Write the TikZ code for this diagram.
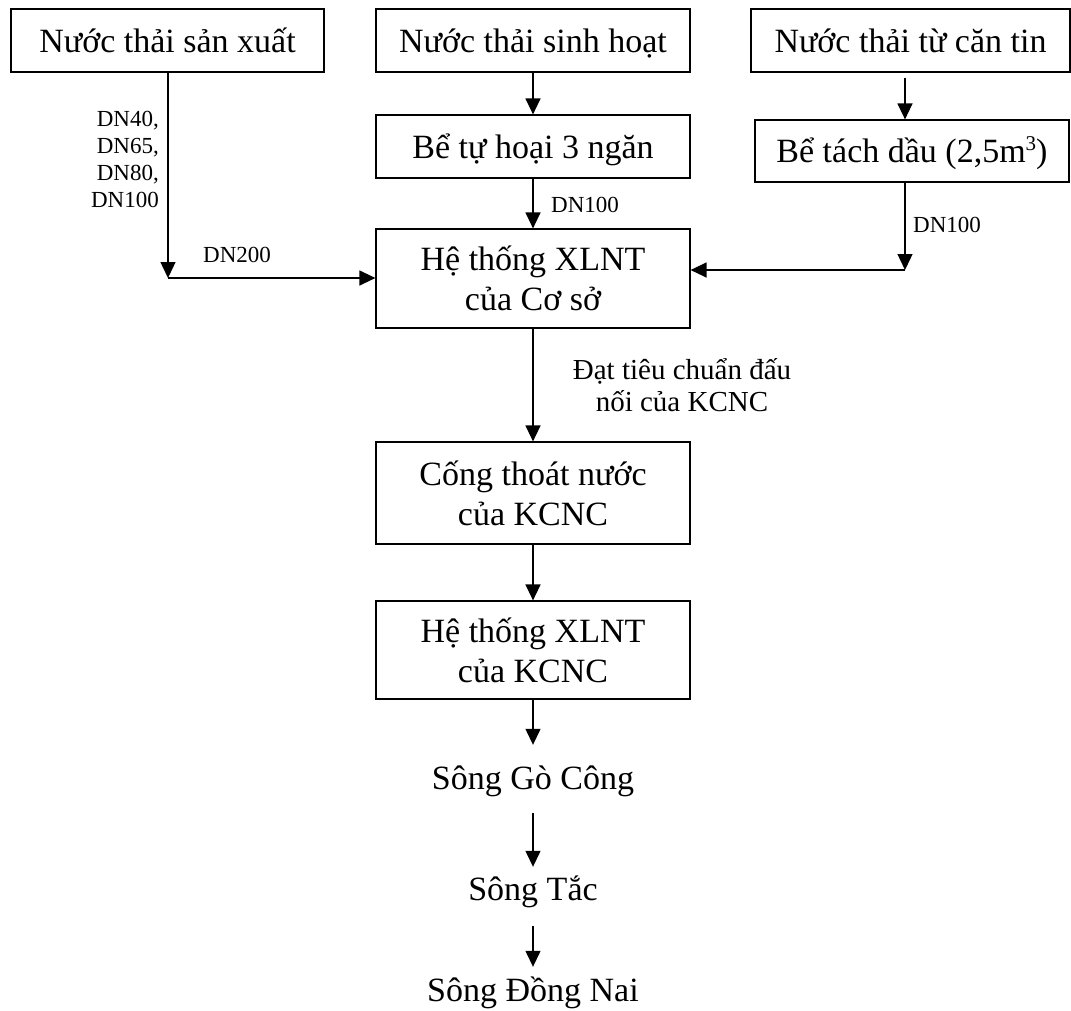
\documentclass[tikz,border=0pt]{standalone}
\usepackage{fontspec}
\setmainfont{Liberation Serif}
\usetikzlibrary{arrows.meta}
\newcommand{\cubic}{\raisebox{0.75ex}{\fontsize{21}{21}\selectfont 3}}
\begin{document}
\begin{tikzpicture}[x=1pt,y=-1pt,
  box/.style={draw, line width=1.2pt, minimum width=314pt, inner sep=0pt,
    font=\fontsize{34}{40}\selectfont, align=center},
  oneline/.style={box, text height=30pt, text depth=7pt},
  conn/.style={line width=1.3pt, -{Triangle[length=16pt,width=15pt]}},
  small/.style={font=\fontsize{23}{27}\selectfont, inner sep=0pt},
  note/.style={font=\fontsize{29}{32}\selectfont, inner sep=0pt, align=center},
  river/.style={font=\fontsize{34}{40}\selectfont, inner sep=0pt, anchor=base,
    text height=24pt, text depth=8pt}]
\useasboundingbox (0,0) rectangle (1071,1010);

% sources
\node[oneline, minimum width=313pt, minimum height=63pt] (src1) at (167.5,40.5) {Nước thải sản xuất};
\node[oneline, minimum height=63pt] (src2) at (533,40.5) {Nước thải sinh hoạt};
\node[oneline, minimum width=319pt, minimum height=63pt] (src3) at (910.5,40.5) {Nước thải từ căn tin};

% pre-treatment
\node[oneline, minimum height=63pt] (septic) at (533,146.5) {Bể tự hoại 3 ngăn};
\node[oneline, minimum height=62pt] (oil) at (912,151) {Bể tách dầu (2,5m\cubic)};

% main line
\node[box, minimum height=99pt] (plant) at (533,278.5) {Hệ thống XLNT\\của Cơ sở};
\node[box, minimum height=102pt] (drain) at (533,493) {Cống thoát nước\\của KCNC};
\node[box, minimum height=98pt] (park) at (533,650) {Hệ thống XLNT\\của KCNC};

% receiving waters
\node[river] (r1) at (533,789) {Sông Gò Công};
\node[river] (r2) at (533,900) {Sông Tắc};
\node[river] (r3) at (533,1001) {Sông Đồng Nai};

% junctions
\coordinate (jl) at (168,278);
\coordinate (jr) at (905,270);

% connectors
\draw[conn] (src1.south -| jl) -- (jl);
\draw[conn] (jl) -- (plant.west |- jl);
\draw[conn] (src2.south) -- (septic.north);
\draw[conn] (septic.south) -- (plant.north);
\draw[conn] ([yshift=-5pt]src3.south -| jr) -- (oil.north -| jr);
\draw[conn] (oil.south -| jr) -- (jr);
\draw[conn] (jr) -- (plant.east |- jr);
\draw[conn] (plant.south) -- (drain.north);
\draw[conn] (drain.south) -- (park.north);
\draw[conn] (park.south) -- ([yshift=20pt]r1.north);
\draw[conn] ([yshift=-16pt]r1.south) -- ([yshift=9pt]r2.north);
\draw[conn] ([yshift=-18pt]r2.south) -- ([yshift=10pt]r3.north);

% pipe labels
\node[small, align=right, anchor=north east] (dnlist) at (159,110.5) {DN40,\\DN65,\\DN80,\\DN100};
\node[small, anchor=base west] (dn200) at (203,262) {DN200};
\node[small, anchor=base west] (dnmid) at (551,212) {DN100};
\node[small, anchor=base west] (dnright) at (913,232) {DN100};
\node[note, anchor=north] (std) at (682,358) {Đạt tiêu chuẩn đấu\\nối của KCNC};
\end{tikzpicture}
\end{document}
